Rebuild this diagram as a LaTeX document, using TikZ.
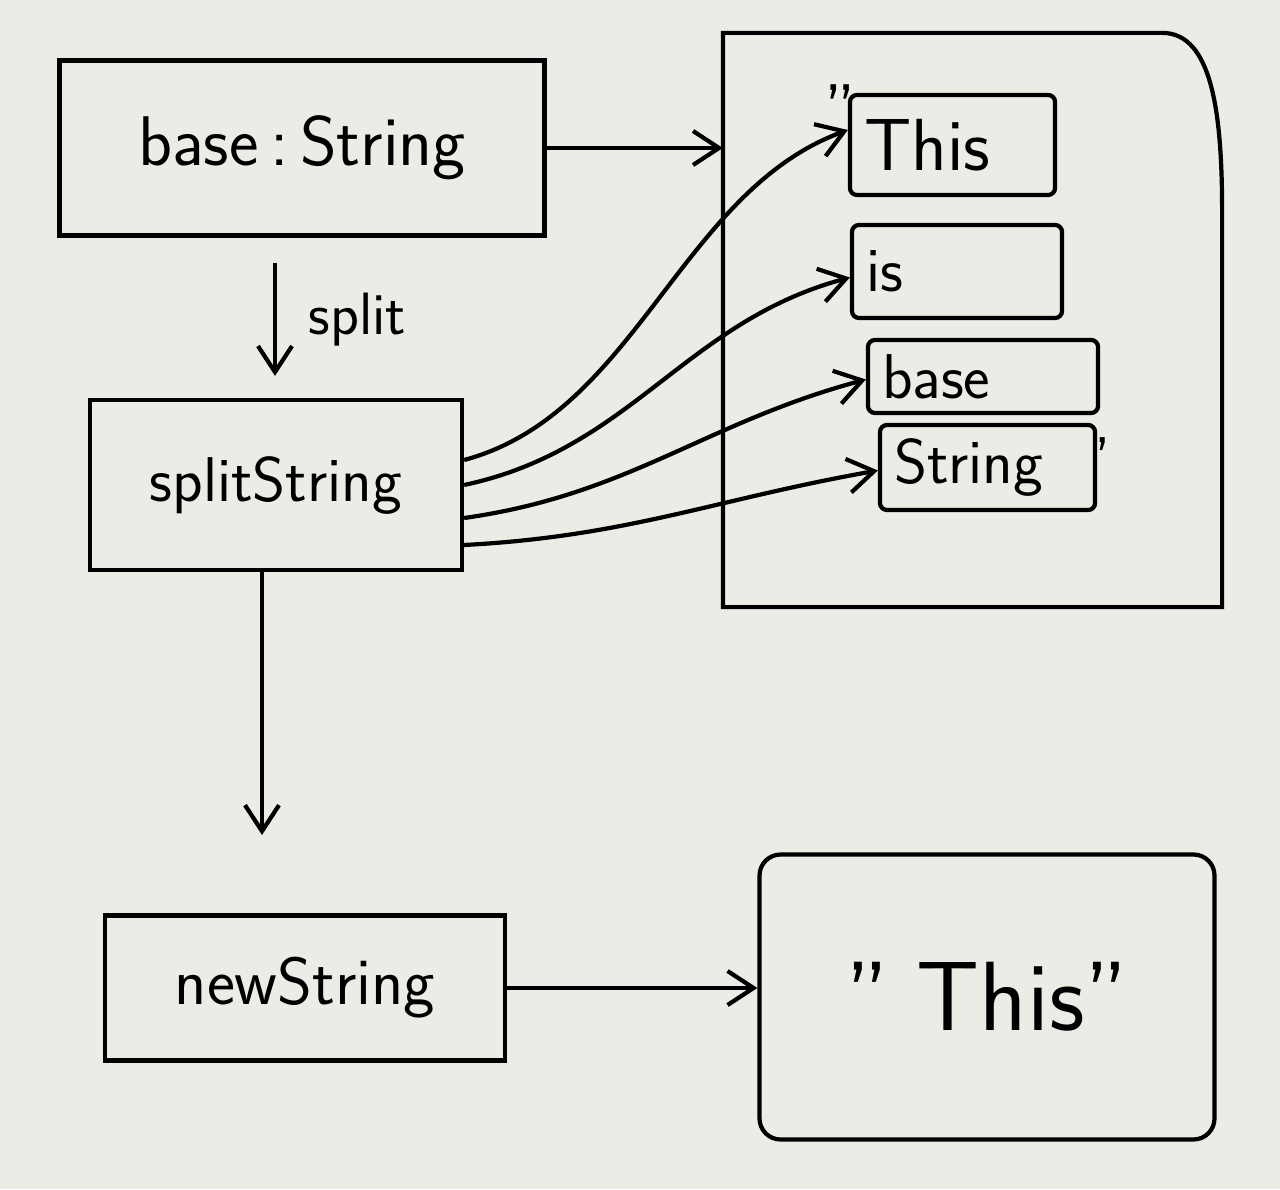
\documentclass[tikz,border=0pt]{standalone}
\usetikzlibrary{arrows.meta,positioning,calc}
\tikzset{every picture/.style={line width=1.2pt}}
\definecolor{paper}{RGB}{237,235,229}
\tikzset{
    box/.style={draw, rectangle, inner sep=0pt},
    word/.style={box, rounded corners=2pt, text width=#1, align=left, inner xsep=4pt,
        font=\sffamily\fontsize{18}{20}\selectfont},
    arr/.style={-{Straight Barb[length=2.6mm,width=3.4mm]}},
    big/.style={font=\sffamily\fontsize{#1}{#1}\selectfont}
}

\begin{document}
\begin{tikzpicture}
    \fill[paper] (0,0) rectangle (12.8,11.89);
    \useasboundingbox (0,0) rectangle (12.8,11.89);
    % variables
    \node[box, big=20, minimum width=4.85cm, minimum height=1.75cm] (b) at (3.02,10.41) {base\,:\,String};
    \node[box, big=18, minimum width=3.72cm, minimum height=1.7cm] (s) at (2.76,7.04) {splitString};
    \node[box, big=19, minimum width=4.0cm, minimum height=1.45cm] (n) at (3.05,2.01) {newString};
    % heap
    \node[minimum width=4.95cm, minimum height=5.7cm] (h) at (9.725,8.69) {};
    \draw (h.south west) -- (h.north west) -- ([xshift=-6mm]h.north east)
        .. controls ([xshift=-1mm]h.north east) and ([yshift=-8mm]h.north east)
        .. ([yshift=-18mm]h.north east) -- (h.south east) -- cycle;
    \node[word=1.77cm, minimum height=1.0cm, font=\sffamily\fontsize{21}{21}\selectfont] (w1) at (9.525,10.44) {This};
    \node[word=1.82cm, minimum height=0.93cm] (w2) at (9.57,9.175) {is};
    \node[word=2.02cm, minimum height=0.73cm] (w3) at (9.83,8.125) {base};
    \node[word=1.87cm, minimum height=0.85cm] (w4) at (9.875,7.215) {String};
    \node[big=20] (q1) at (8.4,10.8) {"};
    \node[big=18] (q2) at (11.03,7.29) {'};
    \node[box, rounded corners=6pt, big=28, minimum width=4.55cm, minimum height=2.85cm] (t) at (9.87,1.92) {"\;This"};
    \coordinate (d) at (2.62,3.54);
    % connectors
    \draw[arr] (b.east) -- (b.east -| h.west);
    \draw[arr] ([yshift=-2.5mm]b.south -| 2.75,0) -- node[right=2mm, big=17] {split} ([yshift=2.2mm]s.north -| 2.75,0);
    \draw[arr] (s.south -| d) -- (d);
    \draw[arr] (n.east) -- (n.east -| t.west);
    \draw[arr] ([yshift=2.5mm]s.east) to[out=15, in=200, looseness=0.9] ([yshift=1.5mm]w1.west);
    \draw[arr] ([yshift=0mm]s.east) to[out=12, in=195] ([yshift=-0.6mm]w2.west);
    \draw[arr] ([yshift=-3.3mm]s.east) to[out=8, in=195] ([yshift=-0.3mm]w3.west);
    \draw[arr] ([yshift=-6mm]s.east) to[out=3, in=190] ([yshift=-0.3mm]w4.west);
\end{tikzpicture}
\end{document}
